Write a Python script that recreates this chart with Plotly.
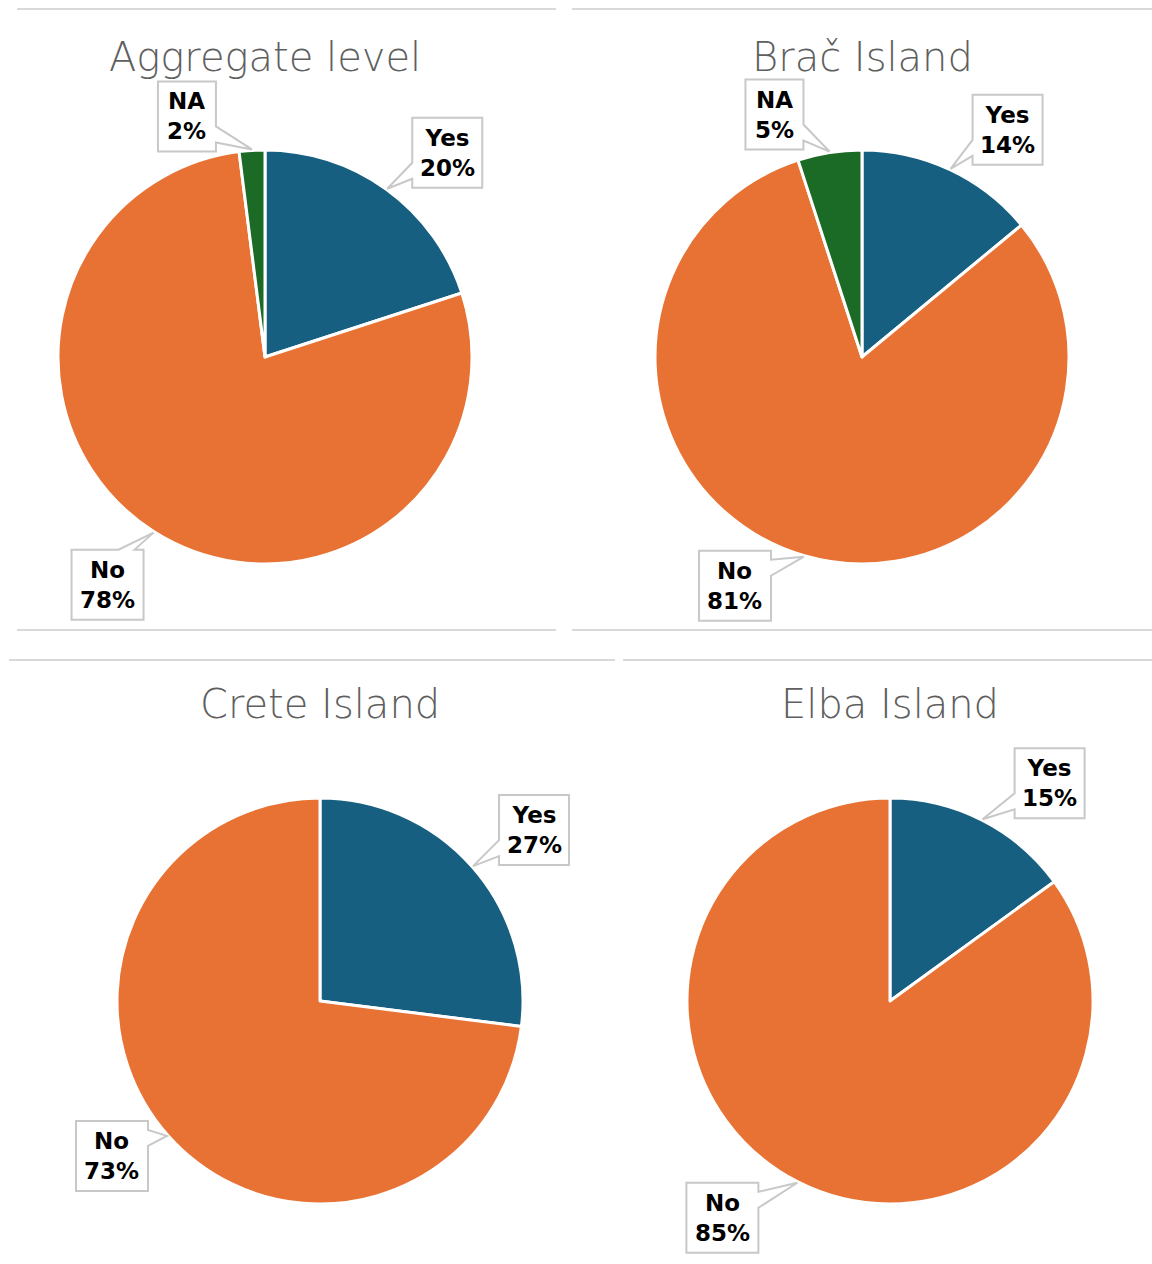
import math
import plotly.graph_objects as go

W, H = 1152, 1264

# Survey answers per area (percent)
titles = ["Aggregate level", "Brač Island", "Crete Island", "Elba Island"]
answers = ["Yes", "No", "NA"]
yes_pct = [20, 14, 27, 15]
no_pct = [78, 81, 73, 85]
na_pct = [2, 5, 0, 0]
colors = {"Yes": "#175F80", "No": "#E87234", "NA": "#1B6A25"}

# Pie geometry in pixels: centre x, centre y, radius
centers = [(265, 357, 207), (862, 357, 207), (320, 1001, 203), (890, 1001, 203)]
title_y = [57, 57, 704, 704]
# Callout box centre offsets (pixels from the slice edge point) per panel / answer
callout_offsets = [
    {"Yes": (60, -36), "No": (-46, 52), "NA": (-65, -33)},
    {"Yes": (57, -39), "No": (-69, 29), "NA": (-55, -37)},
    {"Yes": (61, -36), "No": (-55, 20)},
    {"Yes": (67, -36), "No": (-75, 35)},
]
box_w = {"Yes": 70, "No": 72, "NA": 58}
box_h = 70
# Panel separator rules: (x0, x1, y)
rules = [(17, 556, 9), (17, 556, 630), (572, 1152, 9), (572, 1152, 630),
         (9, 615, 660), (623, 1152, 660)]

GRID = "#d9d9d9"
BOX = "#c8c8c8"


def px(x):
    return x / W


def py(y):
    return 1 - y / H


def bubble_path(tx, ty, bx, by, w, h, gap=9, base=16):
    """Speech-bubble outline: a box centred at (bx, by) with a wedge to (tx, ty)."""
    L, R, T, B = bx - w / 2, bx + w / 2, by - h / 2, by + h / 2
    dx, dy = tx - bx, ty - by
    tip = (tx, ty)
    if abs(dx) / w >= abs(dy) / h:
        # wedge on a vertical side, near the corner closest to the tip
        x = R if dx > 0 else L
        if dy < 0:
            a, b = (x, T + gap), (x, T + gap + base)
        else:
            a, b = (x, B - gap - base), (x, B - gap)
        if dx > 0:
            pts = [(L, T), (R, T), a, tip, b, (R, B), (L, B)]
        else:
            pts = [(L, T), (R, T), (R, B), (L, B), b, tip, a]
    else:
        # wedge on a horizontal side
        y = T if dy < 0 else B
        if dx > 0:
            a, b = (R - gap - base, y), (R - gap, y)
        else:
            a, b = (L + gap, y), (L + gap + base, y)
        if dy < 0:
            pts = [(L, T), a, tip, b, (R, T), (R, B), (L, B)]
        else:
            pts = [(L, T), (R, T), (R, B), b, tip, a, (L, B)]
    return "M " + " L ".join(f"{px(x):.5f},{py(y):.5f}" for x, y in pts) + " Z"


fig = go.Figure()
annotations = []
shapes = []

for i, title in enumerate(titles):
    cx, cy, r = centers[i]
    vals = [yes_pct[i], no_pct[i], na_pct[i]]
    labs = [a for a, v in zip(answers, vals) if v > 0]
    vals = [v for v in vals if v > 0]
    fig.add_trace(go.Pie(
        labels=labs, values=vals, sort=False, direction="clockwise", rotation=0,
        marker=dict(colors=[colors[l] for l in labs], line=dict(color="white", width=3)),
        textinfo="none", hoverinfo="label+percent", showlegend=False,
        domain=dict(x=[px(cx - r), px(cx + r)], y=[py(cy + r), py(cy - r)]),
    ))
    annotations.append(dict(
        x=px(cx), y=py(title_y[i]), xref="paper", yref="paper", text=title,
        showarrow=False, xanchor="center", yanchor="middle",
        font=dict(family="DejaVu Sans, sans-serif", size=40, color="#5f5f5f", weight=200),
    ))
    total = sum(vals)
    start = 0.0
    for lab, v in zip(labs, vals):
        mid = (start + v / 2) / total * 2 * math.pi
        start += v
        tx = cx + (r + 1) * math.sin(mid)
        ty = cy - (r + 1) * math.cos(mid)
        ax, ay = callout_offsets[i][lab]
        bx, by = tx + ax, ty + ay
        shapes.append(dict(type="path", xref="paper", yref="paper", layer="above",
                           path=bubble_path(tx, ty, bx, by, box_w[lab], box_h),
                           fillcolor="white", line=dict(color=BOX, width=2)))
        annotations.append(dict(
            x=px(bx), y=py(by), xref="paper", yref="paper",
            text=f"<b>{lab}</b><br><b>{round(v / total * 100)}%</b>",
            showarrow=False, xanchor="center", yanchor="middle", align="center",
            font=dict(family="DejaVu Sans, sans-serif", size=23, color="black"),
        ))

for x0, x1, y in rules:
    shapes.append(dict(type="line", xref="paper", yref="paper",
                       x0=px(x0), x1=px(x1), y0=py(y), y1=py(y),
                       line=dict(color=GRID, width=2)))

fig.update_layout(
    width=W, height=H, margin=dict(l=0, r=0, t=0, b=0),
    paper_bgcolor="white", plot_bgcolor="white",
    annotations=annotations, shapes=shapes,
)

fig.write_html("out.html")
